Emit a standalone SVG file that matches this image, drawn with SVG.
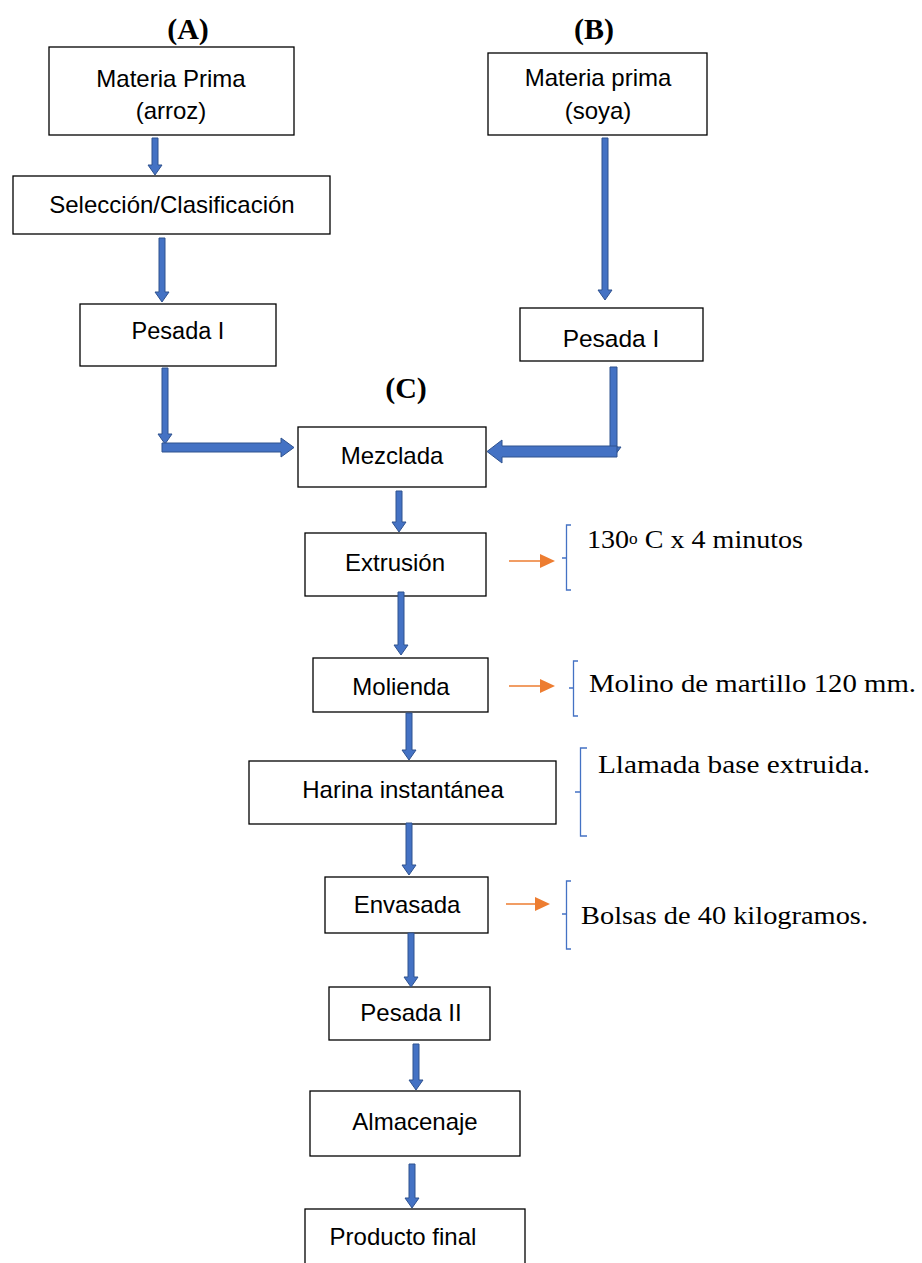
<svg xmlns="http://www.w3.org/2000/svg" width="922" height="1263" viewBox="0 0 922 1263">
<style>
.box{fill:#fff;stroke:#000;stroke-width:1.3}
.t{font-family:"Liberation Sans",Arial,sans-serif;font-size:24px;fill:#000;text-anchor:middle}
.lab{font-family:"Liberation Serif","Times New Roman",serif;font-size:30px;font-weight:bold;fill:#000;text-anchor:middle}
.note{font-family:"Liberation Serif","Times New Roman",serif;font-size:26px;fill:#000}
.arr{fill:#4472C4;stroke:#2F528F;stroke-width:1}
.oarr{stroke:#ED7D31;stroke-width:1.5;fill:none}
.ohead{fill:#ED7D31}
.br{fill:none;stroke:#4472C4;stroke-width:1.3}
</style>
<rect width="922" height="1263" fill="#fff"/>
<text class="lab" x="188" y="39">(A)</text>
<text class="lab" x="594" y="39">(B)</text>
<text class="lab" x="406" y="398">(C)</text>

<g id="materia-arroz"><rect class="box" x="49" y="47" width="245" height="88"/><text class="t" x="171" y="87">Materia Prima</text><text class="t" x="171" y="119">(arroz)</text></g>
<g id="seleccion"><rect class="box" x="13" y="176" width="317" height="58"/><text class="t" x="172" y="213">Selección/Clasificación</text></g>
<g id="pesada-a"><rect class="box" x="80" y="304" width="196" height="62"/><text class="t" x="178" y="339" style="font-size:23.5px">Pesada I</text></g>
<g id="materia-soya"><rect class="box" x="488" y="53" width="219" height="82"/><text class="t" x="598" y="86">Materia prima</text><text class="t" x="598" y="119">(soya)</text></g>
<g id="pesada-b"><rect class="box" x="520" y="308" width="183" height="53"/><text class="t" x="611" y="347" style="font-size:24.5px">Pesada I</text></g>
<g id="mezclada"><rect class="box" x="298" y="427" width="188" height="60"/><text class="t" x="392" y="464">Mezclada</text></g>
<g id="extrusion"><rect class="box" x="305" y="533" width="181" height="63"/><text class="t" x="395" y="571">Extrusión</text></g>
<g id="molienda"><rect class="box" x="313" y="658" width="175" height="54"/><text class="t" x="401" y="695">Molienda</text></g>
<g id="harina"><rect class="box" x="249" y="761" width="307" height="63"/><text class="t" x="403" y="798">Harina instantánea</text></g>
<g id="envasada"><rect class="box" x="325" y="877" width="163" height="56"/><text class="t" x="407" y="913">Envasada</text></g>
<g id="pesada-ii"><rect class="box" x="329" y="987" width="161" height="53"/><text class="t" x="411" y="1021">Pesada II</text></g>
<g id="almacenaje"><rect class="box" x="310" y="1091" width="210" height="65"/><text class="t" x="415" y="1130">Almacenaje</text></g>
<g id="producto"><rect class="box" x="305" y="1209" width="220" height="60"/><text class="t" x="403" y="1245">Producto final</text></g>

<g id="connectors">
<polygon class="arr" points="152,138 158,138 158,165 162,165 155,175 148,165 152,165"/>
<polygon class="arr" points="159,238 165,238 165,292 169,292 162,302 155,292 159,292"/>
<polygon class="arr" points="162,368 168,368 168,434 172,434 165,444 158,434 162,434"/>
<polygon class="arr" points="162,443 281,443 281,438 294,447.5 281,457 281,452 162,452"/>
<polygon class="arr" points="602,138 608,138 608,290 612,290 605,300 598,290 602,290"/>
<polygon class="arr" points="610,367 617,367 617,447 621,447 613.5,457 606,447 610,447"/>
<polygon class="arr" points="617,446 502,446 502,440 487,451.5 502,463 502,457 617,457"/>
<polygon class="arr" points="396,491 402,491 402,522 406,522 399,532 392,522 396,522"/>
<polygon class="arr" points="398,592 404,592 404,645 408,645 401,655 394,645 398,645"/>
<polygon class="arr" points="406,713 412,713 412,750 416,750 409,760 402,750 406,750"/>
<polygon class="arr" points="406,823 412,823 412,865 416,865 409,875 402,865 406,865"/>
<polygon class="arr" points="408,933 414,933 414,977 418,977 411,987 404,977 408,977"/>
<polygon class="arr" points="413,1044 419,1044 419,1080 423,1080 416,1090 409,1080 413,1080"/>
<polygon class="arr" points="409,1164 415,1164 415,1198 419,1198 412,1208 405,1198 409,1198"/>
<line class="oarr" x1="509" y1="561" x2="541" y2="561"/><polygon class="ohead" points="540,554 555,561 540,568"/>
<line class="oarr" x1="509" y1="686" x2="541" y2="686"/><polygon class="ohead" points="540,679 555,686 540,693"/>
<line class="oarr" x1="506" y1="904" x2="536" y2="904"/><polygon class="ohead" points="535,897 550,904 535,911"/>
</g>

<g id="notes">
<path class="br" d="M571,525 H566.5 V590 H571 M566.5,558 H562"/>
<path class="br" d="M578,661 H573.5 V716 H578 M573.5,688 H569"/>
<path class="br" d="M587,748 H580.5 V836 H587 M580.5,792 H575"/>
<path class="br" d="M571,881 H566.5 V949 H571 M566.5,914 H562"/>
<text class="note" x="587" y="548" textLength="216" lengthAdjust="spacingAndGlyphs">130<tspan font-size="16" dy="-4">o</tspan><tspan dy="4"> C x 4 minutos</tspan></text>
<text class="note" x="589" y="692" textLength="327" lengthAdjust="spacingAndGlyphs">Molino de martillo 120 mm.</text>
<text class="note" x="598" y="773" textLength="272" lengthAdjust="spacingAndGlyphs">Llamada base extruida.</text>
<text class="note" x="581" y="924" textLength="287" lengthAdjust="spacingAndGlyphs">Bolsas de 40 kilogramos.</text>
</g>
</svg>
